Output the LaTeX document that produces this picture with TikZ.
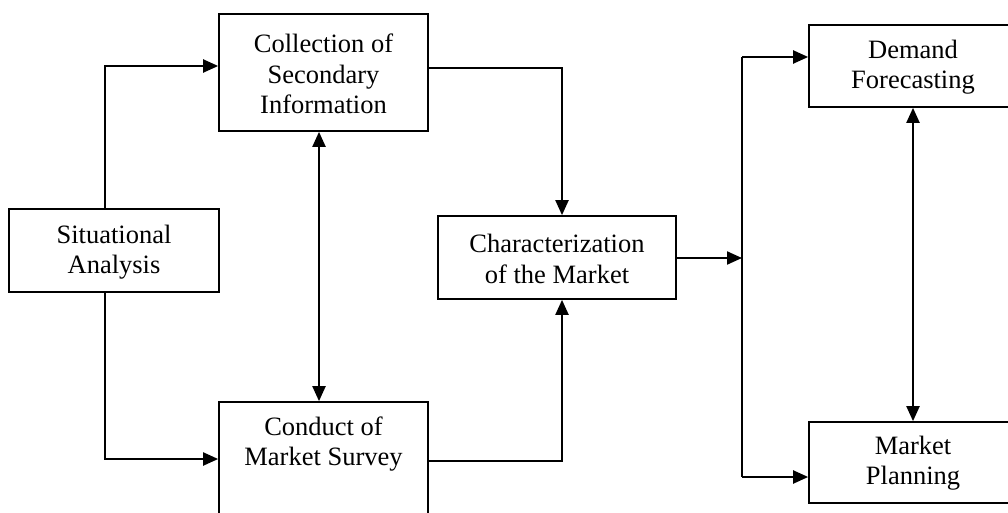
\documentclass[tikz,border=0pt]{standalone}
\usepackage{fontspec}
\setmainfont{Liberation Serif}
\usetikzlibrary{arrows.meta}
\begin{document}
\begin{tikzpicture}[x=1pt,y=-1pt,
  box/.style={draw,line width=1.7pt,rectangle,inner sep=0pt},
  lbl/.style={align=center,inner sep=0pt,font=\fontsize{26.5pt}{30.5pt}\selectfont},
  conn/.style={line width=2.1pt},
  arr/.style={conn,-{Triangle[length=15pt,width=13pt]}},
  darr/.style={conn,{Triangle[length=15pt,width=13pt]}-{Triangle[length=15pt,width=13pt]}}]
\useasboundingbox (0,0) rectangle (1008,513);
\clip (0,0) rectangle (1008,513);
% boxes
\node[box,minimum width=210pt,minimum height=83pt] (sit) at (114,250.5) {};
\node[lbl] (sitT) at (114,252) {Situational\\Analysis};
\node[box,minimum width=209pt,minimum height=117pt] (coll) at (323.5,72.5) {};
\node[lbl] (collT) at (323.5,74) {Collection of\\Secondary\\Information};
\node[box,minimum width=209pt,minimum height=160pt] (cond) at (323.5,482) {};
\node[lbl] (condT) at (323.5,444) {Conduct of\\Market Survey};
\node[box,minimum width=238pt,minimum height=83pt] (char) at (557,257.5) {};
\node[lbl] (charT) at (557,259) {Characterization\\of the Market};
\node[box,minimum width=208pt,minimum height=82pt] (dem) at (913,66) {};
\node[lbl] (demT) at (913,67) {Demand\\Forecasting};
\node[box,minimum width=208pt,minimum height=81pt] (plan) at (913,462.5) {};
\node[lbl] (planT) at (913,463) {Market\\Planning};
% helper coordinates
\coordinate (a1) at (105,66);
\coordinate (a2) at (105,459);
\coordinate (b1) at (562,68);
\coordinate (b2) at (562,461);
\coordinate (sp) at (742,258);
\coordinate (spT) at (742,57);
\coordinate (spB) at (742,477);
% connectors
\draw[arr] (sit.north -| a1) |- (coll.west |- a1);
\draw[arr] (sit.south -| a2) |- (cond.west |- a2);
\draw[darr] (coll.south -| 319,0) -- (cond.north -| 319,0);
\draw[arr] (coll.east |- b1) -| (char.north -| b1);
\draw[arr] (cond.east |- b2) -| (char.south -| b2);
\draw[arr] (char.east |- sp) -- (sp);
\draw[conn] (spT) -- (spB);
\draw[arr] (spT) -- (dem.west |- spT);
\draw[arr] (spB) -- (plan.west |- spB);
\draw[darr] (dem.south) -- (plan.north);
\end{tikzpicture}
\end{document}
